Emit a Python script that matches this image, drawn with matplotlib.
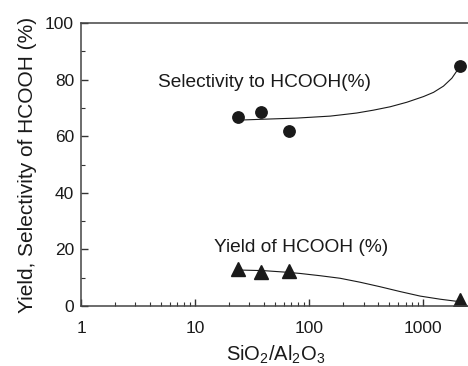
import matplotlib
matplotlib.use("Agg")
import matplotlib.pyplot as plt
from matplotlib.ticker import MultipleLocator, LogLocator, FixedLocator

plt.rcParams["font.family"] = ["Liberation Sans", "DejaVu Sans"]
plt.rcParams["mathtext.default"] = "regular"

# measured points
ratio = [23.8, 37.9, 66.8, 2110]
selectivity = [66.8, 68.4, 61.9, 84.9]
yield_pts = [13.1, 12.1, 12.5, 2.0]

# trend lines
sel_curve_x = [24.8, 39.7, 78, 153, 187, 262, 366, 514, 719, 1006, 1233, 1507, 1785, 2000, 2110]
sel_curve_y = [65.7, 66.0, 66.4, 67.1, 67.5, 68.2, 69.2, 70.4, 72.0, 74.0, 75.5, 77.7, 80.5, 83.4, 84.9]
yld_curve_x = [24.8, 39.7, 60, 83.4, 125, 187, 280, 420, 628, 942, 1410, 1845, 2110]
yld_curve_y = [12.7, 12.5, 12.0, 11.5, 10.7, 9.8, 8.4, 6.8, 5.1, 3.5, 2.4, 1.8, 1.5]

fig = plt.figure(figsize=(4.68, 3.66), dpi=100)
ax = fig.add_axes([81 / 468, 60 / 366, 389.5 / 468, 283 / 366])

ink = "#1a1a1a"
ax.plot(sel_curve_x, sel_curve_y, color=ink, linewidth=0.8)
ax.plot(yld_curve_x, yld_curve_y, color=ink, linewidth=0.8)
ax.plot(ratio, selectivity, "o", color=ink, markersize=8.2, linestyle="none")
ax.plot(ratio, yield_pts, "^", color=ink, markersize=9.5, linestyle="none")

ax.set_xscale("log")
ax.set_xlim(1, 2600)
ax.set_ylim(0, 100)

ax.xaxis.set_major_locator(FixedLocator([1, 10, 100, 1000]))
ax.xaxis.set_minor_locator(LogLocator(base=10, subs=range(2, 10)))
ax.set_xticklabels(["1", "10", "100", "1000"])
ax.yaxis.set_major_locator(MultipleLocator(20))
ax.yaxis.set_minor_locator(MultipleLocator(10))

ax.tick_params(which="both", direction="in", colors="#333333", labelcolor=ink,
               labelsize=12.5, top=False, right=False)
ax.tick_params(axis="y", pad=5)
ax.tick_params(axis="x", pad=11)
ax.tick_params(which="major", length=5, width=1)
ax.tick_params(which="minor", length=3, width=0.8)
for s in ax.spines.values():
    s.set_color("#444444")
    s.set_linewidth(1.1)

ax.text(4.73, 78.8, "Selectivity to HCOOH(%)", fontsize=13.8, color=ink, va="center")
ax.text(14.7, 20.5, "Yield of HCOOH (%)", fontsize=13.8, color=ink, va="center")

ax.set_xlabel(r"SiO$_2$/Al$_2$O$_3$", fontsize=14.5, color=ink, labelpad=5)
ax.set_ylabel("Yield, Selectivity of HCOOH (%)", fontsize=15, color=ink, labelpad=6)

fig.savefig("out.png", dpi=100)
